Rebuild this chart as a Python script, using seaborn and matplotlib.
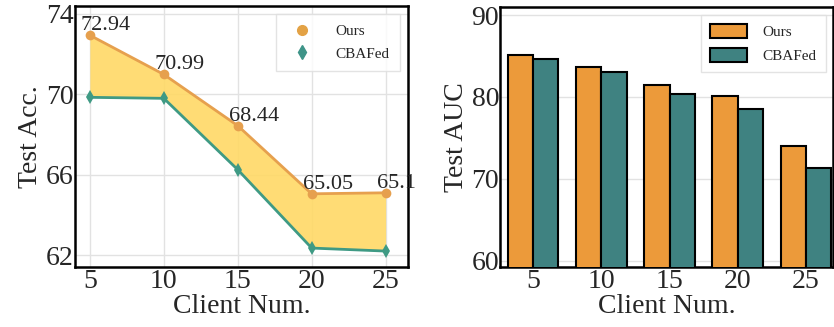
import numpy as np
import pandas as pd
import matplotlib
matplotlib.use("Agg")
import matplotlib.pyplot as plt
import seaborn as sns
from matplotlib.lines import Line2D

# data
clients = [5, 10, 15, 20, 25]
acc_ours = [72.94, 70.99, 68.44, 65.05, 65.1]
acc_cbafed = [69.85, 69.8, 66.25, 62.35, 62.2]
auc_ours = [85.1, 83.6, 81.5, 80.1, 74.0]
auc_cbafed = [84.6, 83.1, 80.3, 78.5, 71.3]
methods = ["Ours", "CBAFed"]

ORANGE = "#EC9A3A"
TEAL = "#3F8281"
LINE_OURS = "#E6A04E"
LINE_CBA = "#3F9A84"
FILL = "#FFD966"

sns.set_theme(style="whitegrid")
plt.rcParams["font.family"] = ["Liberation Serif", "DejaVu Serif"]
plt.rcParams["grid.color"] = "#E2E2E2"
plt.rcParams["grid.linewidth"] = 1.0

fig = plt.figure(figsize=(8.34, 3.27), dpi=100)
ax1 = fig.add_axes([0.090, 0.183, 0.399, 0.799])
ax2 = fig.add_axes([0.600, 0.183, 0.399, 0.796])

# ---- left: accuracy lines
df_acc = pd.DataFrame({
    "client": clients * 2,
    "acc": acc_ours + acc_cbafed,
    "method": ["Ours"] * 5 + ["CBAFed"] * 5,
})
ax1.fill_between(clients, acc_cbafed, acc_ours, color=FILL, alpha=0.9, lw=0, zorder=1)
sns.lineplot(data=df_acc, x="client", y="acc", hue="method", style="method",
             markers={"Ours": "o", "CBAFed": "d"}, dashes=False,
             palette={"Ours": LINE_OURS, "CBAFed": LINE_CBA},
             markersize=7, linewidth=2, markeredgewidth=0, ax=ax1, zorder=3, legend=False)
for x, v in zip(clients, acc_ours):
    ax1.text(x - 0.6, v + 0.25, f"{v:g}", fontsize=16, ha="left", va="baseline", zorder=4)

ax1.set_xlim(4.0, 26.5)
ax1.set_ylim(61.4, 74.4)
ax1.set_xticks(clients)
ax1.set_yticks([62, 66, 70, 74])
ax1.set_xlabel("Client Num.", fontsize=20, labelpad=0)
ax1.set_ylabel("Test Acc.", fontsize=20, labelpad=2)
h1 = [Line2D([], [], marker="o", color="#E3A245", ls="none", markersize=7),
      Line2D([], [], marker="d", color="#3E9488", ls="none", markersize=7)]
ax1.legend(h1, methods, loc="upper right", fontsize=11, frameon=True,
           borderpad=0.7, labelspacing=0.6, handletextpad=1.2, fancybox=False,
           edgecolor="#DDDDDD")

# ---- right: AUC bars
df_auc = pd.DataFrame({
    "client": [str(c) for c in clients] * 2,
    "auc": auc_ours + auc_cbafed,
    "method": ["Ours"] * 5 + ["CBAFed"] * 5,
})
sns.barplot(data=df_auc, x="client", y="auc", hue="method",
            palette={"Ours": ORANGE, "CBAFed": TEAL}, width=0.74, saturation=1,
            edgecolor="black", linewidth=1.5, ax=ax2, zorder=3)
ax2.set_ylim(59.2, 91.0)
ax2.set_xlim(-0.48, 4.4)
ax2.set_yticks([60, 70, 80, 90])
ax2.set_xlabel("Client Num.", fontsize=20, labelpad=0)
ax2.set_ylabel("Test AUC", fontsize=20, labelpad=2)
ax2.legend(loc="upper right", fontsize=11, frameon=True, borderpad=0.6,
           labelspacing=0.55, handlelength=2.4, handleheight=1.1,
           handletextpad=1.0, fancybox=False, edgecolor="#DDDDDD", title=None)

for ax in (ax1, ax2):
    ax.set_axisbelow(True)
    ax.tick_params(axis="both", labelsize=20, pad=1, length=0)
    for s in ax.spines.values():
        s.set_color("black")
        s.set_linewidth(1.8)

fig.savefig("out.png", dpi=100)
